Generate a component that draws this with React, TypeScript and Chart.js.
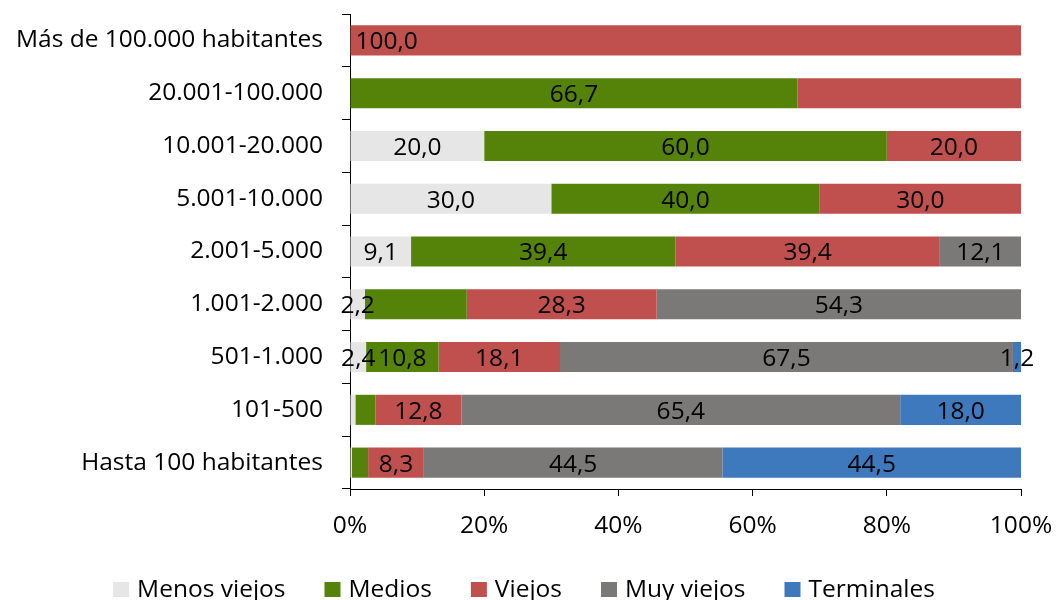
import { useEffect, useRef } from "react";
import { Chart, registerables } from "chart.js";

Chart.register(...registerables);

const categories = [
  "Más de 100.000 habitantes",
  "20.001-100.000",
  "10.001-20.000",
  "5.001-10.000",
  "2.001-5.000",
  "1.001-2.000",
  "501-1.000",
  "101-500",
  "Hasta 100 habitantes",
];
const seriesNames = ["Menos viejos", "Medios", "Viejos", "Muy viejos", "Terminales"];
const menosViejos = [0, 0, 20.0, 30.0, 9.1, 2.2, 2.4, 0.8, 0.3];
const medios = [0, 66.7, 60.0, 40.0, 39.4, 15.2, 10.8, 3.0, 2.4];
const viejos = [100.0, 33.3, 20.0, 30.0, 39.4, 28.3, 18.1, 12.8, 8.3];
const muyViejos = [0, 0, 0, 0, 12.1, 54.3, 67.5, 65.4, 44.5];
const terminales = [0, 0, 0, 0, 0, 0, 1.2, 18.0, 44.5];
const xTicks = [0, 20, 40, 60, 80, 100];

const colors = ["#E6E6E6", "#558208", "#C0504D", "#7A7977", "#3E78BD"];
const FONT = "'Open Sans', sans-serif";
const FSIZE = 24.5;

// labels that the original chart does not show: dataset index -> category indexes
const hiddenLabels: Record<number, number[]> = { 0: [7, 8], 1: [5, 7, 8], 2: [1] };

const fmt = (v: number) => v.toFixed(1).replace(".", ",");

const labelsPlugin = {
  id: "barLabels",
  afterDatasetsDraw(chart: any) {
    const ctx = chart.ctx;
    ctx.save();
    ctx.font = `${FSIZE}px ${FONT}`;
    ctx.fillStyle = "#000";
    ctx.textBaseline = "middle";
    chart.data.datasets.forEach((ds: any, di: number) => {
      const meta = chart.getDatasetMeta(di);
      meta.data.forEach((bar: any, i: number) => {
        const v = ds.data[i];
        if (!v) return;
        if ((hiddenLabels[di] || []).includes(i)) return;
        const left = Math.min(bar.x, bar.base);
        const right = Math.max(bar.x, bar.base);
        if (di === 2 && i === 0) {
          ctx.textAlign = "left";
          ctx.fillText(fmt(v), left + 5, bar.y + 2);
        } else {
          ctx.textAlign = "center";
          ctx.fillText(fmt(v), (left + right) / 2, bar.y + 2);
        }
      });
    });
    ctx.restore();
  },
};

const legendPlugin = {
  id: "bottomLegend",
  afterDraw(chart: any) {
    const ctx = chart.ctx;
    ctx.save();
    ctx.font = `${FSIZE}px ${FONT}`;
    const box = 16;
    const gapBox = 8;
    const gapItem = 39;
    const items = chart.data.datasets.map((d: any) => ({
      text: d.label,
      color: d.backgroundColor,
      w: ctx.measureText(d.label).width,
    }));
    const total =
      items.reduce((s: number, it: any) => s + box + gapBox + it.w, 0) + gapItem * (items.length - 1);
    let x = 524 - total / 2;
    const baseline = 597;
    ctx.textBaseline = "alphabetic";
    ctx.textAlign = "left";
    items.forEach((it: any) => {
      ctx.fillStyle = it.color;
      ctx.fillRect(x, baseline - 15, box, 15);
      ctx.fillStyle = "#000";
      ctx.fillText(it.text, x + box + gapBox, baseline);
      x += box + gapBox + it.w + gapItem;
    });
    ctx.restore();
  },
};

export default function App() {
  const ref = useRef<HTMLCanvasElement | null>(null);

  useEffect(() => {
    if (!ref.current) return;
    const series = [menosViejos, medios, viejos, muyViejos, terminales];
    const chart = new Chart(ref.current, {
      type: "bar",
      data: {
        labels: categories,
        datasets: series.map((d, i) => ({
          label: seriesNames[i],
          data: d,
          backgroundColor: colors[i],
          borderWidth: 0,
          barPercentage: 0.57,
          categoryPercentage: 1,
        })),
      },
      options: {
        indexAxis: "y",
        animation: false,
        responsive: false,
        maintainAspectRatio: false,
        layout: { padding: { top: 14, right: 35, bottom: 51, left: 0 } },
        plugins: {
          legend: { display: false },
          tooltip: { enabled: false },
          title: { display: false },
        },
        scales: {
          x: {
            stacked: true,
            min: 0,
            max: 100,
            afterBuildTicks: (s: any) => {
              s.ticks = xTicks.map((v) => ({ value: v }));
            },
            afterFit: (s: any) => {
              s.height = 60;
              s.paddingLeft = 0;
              s.paddingRight = 0;
            },
            ticks: {
              callback: (v: any) => `${v}%`,
              color: "#000",
              font: { family: FONT, size: FSIZE },
              padding: 15,
              maxRotation: 0,
            },
            grid: {
              display: true,
              drawOnChartArea: false,
              drawTicks: true,
              tickLength: 7,
              color: "#000",
              lineWidth: 1,
            },
            border: { display: true, color: "#000", width: 1 },
          },
          y: {
            stacked: true,
            afterFit: (s: any) => {
              s.width = 350;
              s.paddingTop = 0;
              s.paddingBottom = 0;
            },
            ticks: {
              color: "#000",
              font: { family: FONT, size: FSIZE },
              padding: 19,
            },
            grid: {
              display: true,
              drawOnChartArea: false,
              drawTicks: true,
              tickLength: 8,
              color: "#000",
              lineWidth: 1,
              offset: true,
            },
            border: { display: true, color: "#000", width: 1 },
          },
        },
      },
      plugins: [labelsPlugin, legendPlugin],
    } as any);
    return () => chart.destroy();
  }, []);

  return (
    <div
      style={{
        position: "fixed",
        left: 0,
        top: 0,
        width: 1056,
        height: 600,
        overflow: "hidden",
        background: "#fff",
      }}
    >
      <canvas ref={ref} width={1056} height={600} style={{ width: 1056, height: 600, display: "block" }} />
    </div>
  );
}
